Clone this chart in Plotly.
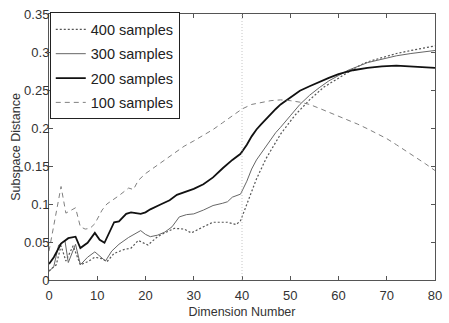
import plotly.graph_objects as go

# ---- data ----
x400 = [0, 1.5, 2.5, 3.5, 5, 6.5, 8, 9.5, 11, 12, 13.5, 15.5, 17, 18.5, 20.5, 22.5, 24, 26, 28, 29.5, 32, 34, 37,
        38.8, 39.7, 41, 43, 45, 48, 51, 54, 57, 60, 62, 64, 66, 68, 70, 72, 75, 78, 80]
y400 = [0.012, 0.02, 0.045, 0.025, 0.045, 0.02, 0.024, 0.03, 0.028, 0.024, 0.035, 0.04, 0.042, 0.052, 0.046, 0.057,
        0.062, 0.068, 0.067, 0.062, 0.07, 0.076, 0.076, 0.073, 0.078, 0.1, 0.133, 0.16, 0.192, 0.217, 0.237, 0.254,
        0.266, 0.274, 0.281, 0.287, 0.291, 0.295, 0.298, 0.302, 0.306, 0.308]

x300 = [0, 1, 2, 3.3, 4, 5.5, 6.5, 8, 9.5, 10.5, 11.7, 13, 14.5, 16.5, 18, 19, 20, 21, 22.5, 24, 25.5, 27, 28.5, 30,
        32, 34, 36, 37, 38, 39.7, 41, 42, 43, 44, 45, 46, 47, 48, 49, 50, 52, 54, 56, 58, 60, 62, 64, 66, 68, 70,
        72, 75, 78, 80]
y300 = [0.011, 0.018, 0.046, 0.052, 0.023, 0.047, 0.02, 0.03, 0.037, 0.032, 0.025, 0.038, 0.047, 0.056, 0.062,
        0.065, 0.06, 0.057, 0.059, 0.063, 0.07, 0.083, 0.086, 0.087, 0.092, 0.098, 0.101, 0.103, 0.109, 0.113, 0.13,
        0.146, 0.158, 0.167, 0.177, 0.186, 0.194, 0.201, 0.209, 0.216, 0.231, 0.243, 0.253, 0.262, 0.269, 0.276,
        0.281, 0.286, 0.289, 0.292, 0.295, 0.298, 0.300, 0.302]

x200 = [0, 1, 2.5, 4, 5.5, 6.5, 8, 9.5, 10.5, 11.5, 13.5, 14.5, 16, 17, 18, 19, 20, 21, 23, 25, 26.5, 28, 30, 32,
        34, 36, 38, 39.7, 41, 42, 43, 44, 45, 46, 47, 48, 50, 52, 54, 56, 58, 60, 63, 66, 69, 72, 75, 78, 80]
y200 = [0.021, 0.03, 0.048, 0.055, 0.057, 0.042, 0.049, 0.062, 0.053, 0.049, 0.076, 0.077, 0.087, 0.089, 0.088,
        0.087, 0.089, 0.093, 0.099, 0.105, 0.112, 0.115, 0.12, 0.126, 0.135, 0.147, 0.158, 0.166, 0.178, 0.189,
        0.198, 0.205, 0.212, 0.219, 0.225, 0.231, 0.24, 0.249, 0.255, 0.261, 0.266, 0.271, 0.276, 0.279, 0.281,
        0.282, 0.281, 0.280, 0.279]

x100 = [0, 2.5, 3.5, 5.5, 6.5, 7.5, 8.5, 9.5, 11, 12, 14.5, 16.5, 17.5, 18.5, 20, 22, 24, 26, 28, 30, 32, 34, 36,
        38, 40, 42, 44, 46, 48, 50, 52, 54, 56, 58, 60, 62, 64, 66, 68, 70, 72, 74, 76, 78, 80]
y100 = [0.038, 0.123, 0.088, 0.095, 0.07, 0.067, 0.068, 0.074, 0.092, 0.100, 0.111, 0.121, 0.119, 0.131, 0.140,
        0.149, 0.158, 0.168, 0.176, 0.183, 0.19, 0.198, 0.207, 0.216, 0.225, 0.231, 0.234, 0.236, 0.237, 0.236,
        0.234, 0.231, 0.226, 0.221, 0.215, 0.21, 0.205, 0.199, 0.193, 0.186, 0.178, 0.170, 0.162, 0.153, 0.144]

names = ["400 samples", "300 samples", "200 samples", "100 samples"]
x_ticks = [0, 10, 20, 30, 40, 50, 60, 70, 80]
y_ticks = [0, 0.05, 0.1, 0.15, 0.2, 0.25, 0.3, 0.35]
marker_x = 40

FONT = "Liberation Sans, Arial, sans-serif"

fig = go.Figure()
fig.add_trace(go.Scatter(x=x400, y=y400, mode="lines", name=names[0], legendgroup="a",
                         line=dict(color="#555555", width=1.2, dash="2px,2px")))
fig.add_trace(go.Scatter(x=x300, y=y300, mode="lines", name=names[1], legendgroup="b",
                         line=dict(color="#666666", width=1)))
fig.add_trace(go.Scatter(x=x200, y=y200, mode="lines", name=names[2], legendgroup="c",
                         line=dict(color="#111111", width=1.8)))
fig.add_trace(go.Scatter(x=x100, y=y100, mode="lines", name=names[3], legendgroup="d",
                         line=dict(color="#808080", width=1, dash="5px,4px")))

fig.add_vline(x=marker_x, line=dict(color="#b8b8b8", width=0.8, dash="1px,2px"))

axis_common = dict(showline=True, linecolor="#555555", linewidth=1, mirror="ticks", ticks="inside",
                   ticklen=4, tickcolor="#555555", showgrid=False, zeroline=False,
                   tickfont=dict(family=FONT, size=13, color="#333333"))

fig.update_xaxes(range=[0, 80], tickvals=x_ticks, ticklabelstandoff=3,
                 title=dict(text="Dimension Number", font=dict(family=FONT, size=12.5, color="#333333"),
                            standoff=5),
                 **axis_common)
fig.update_yaxes(range=[0, 0.35], tickvals=y_ticks, ticklabelstandoff=-4,
                 title=dict(text="Subspace Distance", font=dict(family=FONT, size=12.5, color="#333333"),
                            standoff=0),
                 **axis_common)

fig.update_layout(
    width=449, height=323,
    margin=dict(l=49, r=7, t=8, b=33),
    paper_bgcolor="white", plot_bgcolor="white",
    font=dict(family=FONT, color="#222222"),
    legend=dict(x=0.002, y=1.006, xanchor="left", yanchor="top", bgcolor="white",
                bordercolor="#222222", borderwidth=1, tracegroupgap=2.5,
                font=dict(family=FONT, size=14.5, color="#222222")),
)

fig.write_html("out.html", config={"displayModeBar": False},
               post_script="document.body.style.margin='0';")
